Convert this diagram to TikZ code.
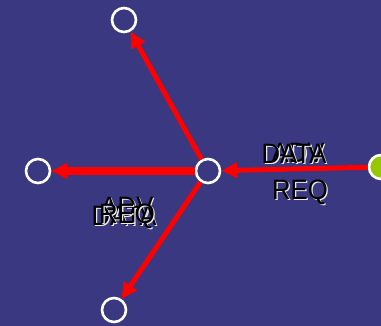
\documentclass[tikz,border=0pt]{standalone}
\usepackage{fontspec}
\setmainfont{Liberation Sans}
\usepackage{tikz}
\usetikzlibrary{arrows.meta}
\definecolor{namblue}{RGB}{57,56,128}
\definecolor{namgreen}{RGB}{150,200,0}
\definecolor{pktred}{RGB}{255,0,0}
\tikzset{
  sensor/.style={circle,draw=white,line width=2.6pt,minimum size=24pt,inner sep=0pt},
  sink/.style={sensor,fill=namgreen},
  pkt/.style={-{Triangle[length=16pt,width=15pt]},draw=pktred,line width=5pt},
  msg/.style={font=\fontsize{28}{28}\selectfont,text=black,inner sep=0pt,xscale=0.92},
  msgshadow/.style={msg,text=white!85!gray},
}

\begin{document}
\begin{tikzpicture}[x=1pt,y=-1pt]
  \fill[namblue] (0,0) rectangle (381,326);
  \useasboundingbox (0,0) rectangle (381,326);
  % sensor field
  \node[sensor] (top) at (124,20) {};
  \node[sensor] (left) at (38,171) {};
  \node[sensor] (hub) at (208,171) {};
  \node[sensor] (bottom) at (114,310) {};
  \node[sink] (src) at (381,167) {};
  % packets in flight
  \draw[pkt] (src) -- (hub);
  \draw[pkt] (hub) -- (top);
  \draw[pkt,line width=8pt] (hub) -- (left);
  \draw[pkt] (hub) -- (bottom);
  % message labels (nam draws them on top of each other)
  \foreach \n/\x/\y/\t in {advr/298/153/ADV, datar/294/154/DATA, reqr/300/192/REQ,
                           advl/127/207/ADV, datal/124/216/DATA, reql/127/216/REQ}{
    \node[msgshadow] at (\x+1.2,\y+1.2) {\t};
    \node[msg] (\n) at (\x,\y) {\t};}
\end{tikzpicture}
\end{document}
